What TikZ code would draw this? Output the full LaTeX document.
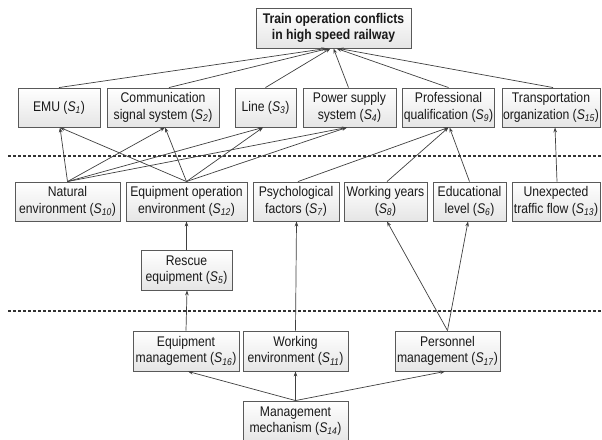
\documentclass[tikz,border=0pt]{standalone}
\usepackage{fontspec}
\setmainfont{Liberation Sans}[FakeStretch=0.87]
\usetikzlibrary{arrows.meta}
\newcommand\Sx[1]{\textit{S}\textsubscript{\textit{#1}}}
\begin{document}
\begin{tikzpicture}[x=1pt,y=-1pt,
  box/.style={draw=black!65, line width=0.9pt, top color=white, bottom color=black!10,
    align=center, inner sep=1pt, text=black!90,
    font=\fontsize{14}{16.5}\selectfont},
  conn/.style={draw=black!75, line width=0.7pt, -{Stealth[length=5pt,width=3.6pt]}},
  sep/.style={draw=black!80, line width=1.4pt, dash pattern=on 3pt off 2pt}]
\clip (0,0) rectangle (602,439);
\fill[white] (0,0) rectangle (602,439);
% top
\node[box, minimum width=155, minimum height=40, font=\fontsize{14}{16.5}\selectfont\bfseries] (top) at (333.5,28) {Train operation conflicts\\in high speed railway};
% row 1
\node[box, minimum width=82, minimum height=39] (s1) at (59,107.5) {EMU (\Sx{1})};
\node[box, minimum width=112, minimum height=39] (s2) at (163,107.5) {Communication\\signal system (\Sx{2})};
\node[box, minimum width=61, minimum height=39] (s3) at (265.5,107.5) {Line (\Sx{3})};
\node[box, minimum width=93, minimum height=39] (s4) at (349.5,107.5) {Power supply\\system (\Sx{4})};
\node[box, minimum width=91, minimum height=39] (s9) at (448.5,107.5) {Professional\\qualification (\Sx{9})};
\node[box, minimum width=98, minimum height=39] (s15) at (551,107.5) {Transportation\\organization (\Sx{15})};
% row 2
\node[box, minimum width=105, minimum height=39] (s10) at (67.5,201.5) {Natural\\environment (\Sx{10})};
\node[box, minimum width=121, minimum height=39] (s12) at (186.5,201.5) {Equipment operation\\environment (\Sx{12})};
\node[box, minimum width=86, minimum height=39] (s7) at (296,201.5) {Psychological\\factors (\Sx{7})};
\node[box, minimum width=83, minimum height=39] (s8) at (385.5,201.5) {Working years\\(\Sx{8})};
\node[box, minimum width=73, minimum height=39] (s6) at (469.5,201.5) {Educational\\level (\Sx{6})};
\node[box, minimum width=88, minimum height=39] (s13) at (556,201.5) {Unexpected\\traffic flow (\Sx{13})};
% rescue
\node[box, minimum width=91, minimum height=40] (s5) at (186.5,270) {Rescue\\equipment (\Sx{5})};
% row 3
\node[box, minimum width=106, minimum height=40] (s16) at (186,351) {Equipment\\management (\Sx{16})};
\node[box, minimum width=105, minimum height=40] (s11) at (295.5,351) {Working\\environment (\Sx{11})};
\node[box, minimum width=105, minimum height=40] (s17) at (447.5,351) {Personnel\\management (\Sx{17})};
\node[box, minimum width=105, minimum height=40] (s14) at (295.5,421) {Management\\mechanism (\Sx{14})};
% separators
\coordinate (d1a) at (8,156); \coordinate (d1b) at (602,156);
\coordinate (d2a) at (8,311); \coordinate (d2b) at (602,311);
\draw[sep] (d1a) -- (d1b);
\draw[sep] (d2a) -- (d2b);
% to top
\draw[conn] (s1.north) -- ([xshift=-7pt]top.south);
\draw[conn] ([xshift=6pt]s2.north) -- ([xshift=-5pt]top.south);
\draw[conn] (s3.north) -- ([xshift=-3pt]top.south);
\draw[conn] ([xshift=-1pt]s4.north) -- ([xshift=0pt]top.south);
\draw[conn] (s9.north) -- ([xshift=3pt]top.south);
\draw[conn] ([xshift=2pt]s15.north) -- ([xshift=5pt]top.south);
% row2 -> row1
\draw[conn] (s10.north) -- ([xshift=1pt]s1.south);
\draw[conn] (s10.north) -- ([xshift=2pt]s2.south);
\draw[conn] (s10.north) -- ([xshift=-2.5pt]s3.south);
\draw[conn] (s10.north) -- ([xshift=-2.5pt]s4.south);
\draw[conn] (s12.north) -- ([xshift=1pt]s1.south);
\draw[conn] (s12.north) -- ([xshift=2pt]s2.south);
\draw[conn] (s12.north) -- ([xshift=-2.5pt]s3.south);
\draw[conn] (s12.north) -- ([xshift=-2.5pt]s4.south);
\draw[conn] ([xshift=2pt]s7.north) -- (s9.south);
\draw[conn] ([xshift=1.5pt]s8.north) -- (s9.south);
\draw[conn] (s6.north) -- ([xshift=1pt]s9.south);
\draw[conn] ([xshift=1pt]s13.north) -- ([xshift=4pt]s15.south);
% lower
\draw[conn] (s5.north) -- (s12.south);
\draw[conn] (s16.north) -- ([xshift=0.5pt]s5.south);
\draw[conn] (s11.north) -- ([xshift=0.5pt]s7.south);
\draw[conn] (s17.north) -- ([xshift=1.5pt]s8.south);
\draw[conn] (s17.north) -- ([xshift=-1.5pt]s6.south);
\draw[conn] (s14.north) -- ([xshift=2pt]s16.south);
\draw[conn] (s14.north) -- (s11.south);
\draw[conn] (s14.north) -- ([xshift=-2.5pt]s17.south);
\end{tikzpicture}
\end{document}
